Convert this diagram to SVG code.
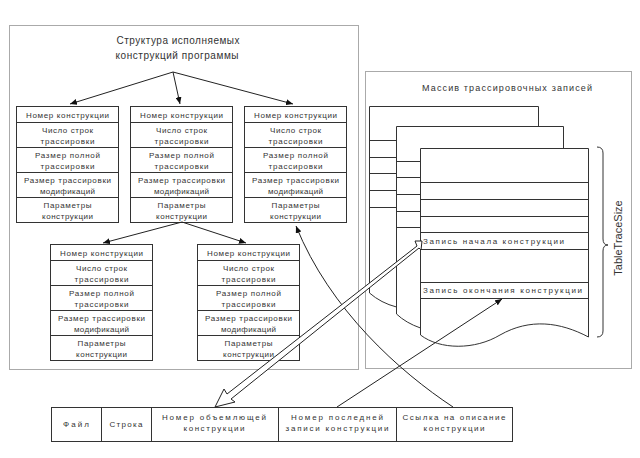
<svg xmlns="http://www.w3.org/2000/svg" width="640" height="458" viewBox="0 0 640 458">
<style>
.frame{fill:none;stroke:#555;stroke-width:1;stroke-dasharray:1 1}
.box{fill:#fff;stroke:#333;stroke-width:1}
.ln{fill:none;stroke:#333;stroke-width:1}
.t{font-family:"Liberation Sans",Arial,sans-serif;font-size:8px;fill:#333;text-anchor:middle}
.tl{font-family:"Liberation Sans",Arial,sans-serif;font-size:8px;fill:#333}
.tt{font-family:"Liberation Sans",Arial,sans-serif;font-size:10px;fill:#333;text-anchor:middle}
.c{fill:none;stroke:#222;stroke-width:1}
</style>
<defs>
<marker id="ah" markerWidth="8" markerHeight="6" refX="7" refY="3" orient="auto" markerUnits="userSpaceOnUse">
<path d="M0,0 L7,3 L0,6 z" fill="#111"/>
</marker>
<g id="rec">
<rect class="box" x="0" y="0" width="102" height="116"/>
<path class="ln" d="M0,16 H102 M0,41 H102 M0,66 H102 M0,91 H102"/>
<text class="t" x="51" y="11" textLength="83" lengthAdjust="spacing">Номер конструкции</text>
<text class="t" x="51" y="26" textLength="51" lengthAdjust="spacing">Число строк</text>
<text class="t" x="51" y="37" textLength="54" lengthAdjust="spacing">трассировки</text>
<text class="t" x="51" y="51" textLength="65" lengthAdjust="spacing">Размер полной</text>
<text class="t" x="51" y="62" textLength="54" lengthAdjust="spacing">трассировки</text>
<text class="t" x="51" y="76" textLength="87" lengthAdjust="spacing">Размер трассировки</text>
<text class="t" x="51" y="87" textLength="55" lengthAdjust="spacing">модификаций</text>
<text class="t" x="51" y="101" textLength="48" lengthAdjust="spacing">Параметры</text>
<text class="t" x="51" y="112" textLength="51" lengthAdjust="spacing">конструкции</text>
</g>
</defs>
<rect width="640" height="458" fill="#fff"/>

<g id="structure-frame">
<rect class="frame" x="9.5" y="25.5" width="349" height="344"/>
<text class="tt" x="178" y="44" textLength="123" lengthAdjust="spacing">Структура исполняемых</text>
<text class="tt" x="177" y="59" textLength="123" lengthAdjust="spacing">конструкций программы</text>
</g>

<g id="node1"><use href="#rec" x="16.5" y="106.5"/></g>
<g id="node2"><use href="#rec" x="130.5" y="106.5"/></g>
<g id="node3"><use href="#rec" x="244.5" y="106.5"/></g>
<g id="node4"><use href="#rec" x="50.5" y="244.5"/></g>
<g id="node5"><use href="#rec" x="197.5" y="244.5"/></g>

<g id="trace-array">
<rect class="frame" x="365.5" y="71.5" width="266" height="297"/>
<text class="tt" x="507" y="91" textLength="170" lengthAdjust="spacing" style="font-size:9px">Массив трассировочных записей</text>
<path class="ln" d="M369.5,293 V106.5 H538.5 V127"/>
<path class="ln" d="M369.5,293 Q381,303 396.5,307"/>
<path class="ln" d="M369.5,140.5 H396 M369.5,157.5 H396 M369.5,173.5 H396 M369.5,190.5 H396 M369.5,207.5 H396"/>
<path class="ln" d="M396.5,314 V126.5 H563.5 V148"/>
<path class="ln" d="M396.5,314 Q406,323 420.5,328"/>
<path class="ln" d="M396.5,161.5 H420 M396.5,177.5 H420 M396.5,194.5 H420 M396.5,211.5 H420 M396.5,227.5 H420"/>
<path class="ln" d="M420.5,335 V148.5 H588.5 V337 C560,322 530,318 500,335 C475,350 440,350 420.5,335"/>
<path class="ln" d="M420.5,182.5 H588 M420.5,199.5 H588 M420.5,216.5 H588 M420.5,232.5 H588 M420.5,249.5 H588 M420.5,282.5 H588 M420.5,298.5 H588"/>
<text class="tl" x="423" y="244" textLength="141" lengthAdjust="spacing">Запись начала конструкции</text>
<text class="tl" x="423" y="293" textLength="159" lengthAdjust="spacing">Запись окончания конструкции</text>
<path class="ln" d="M597,147 Q603,147 603,153 V239 Q603,245 608,245 Q603,245 603,251 V331 Q603,337 597,337"/>
<text x="622" y="238" transform="rotate(-90 622 238)" style="font-family:'Liberation Sans',Arial,sans-serif;font-size:11px;fill:#333;text-anchor:middle">TableTraceSize</text>
</g>

<g id="record-table">
<rect class="box" x="51.5" y="407.5" width="461" height="34"/>
<path class="ln" d="M101.5,407.5 V441.5 M151.5,407.5 V441.5 M278.5,407.5 V441.5 M396.5,407.5 V441.5"/>
<text class="t" x="76" y="427" textLength="26" lengthAdjust="spacing">Файл</text>
<text class="t" x="126" y="427" textLength="33" lengthAdjust="spacing">Строка</text>
<text class="t" x="214" y="420" textLength="104" lengthAdjust="spacing">Номер объемлющей</text>
<text class="t" x="214" y="431" textLength="61" lengthAdjust="spacing">конструкции</text>
<text class="t" x="337" y="420" textLength="92" lengthAdjust="spacing">Номер последней</text>
<text class="t" x="337" y="431" textLength="103" lengthAdjust="spacing">записи конструкции</text>
<text class="t" x="454" y="420" textLength="103" lengthAdjust="spacing">Ссылка на описание</text>
<text class="t" x="454" y="431" textLength="61" lengthAdjust="spacing">конструкции</text>
</g>

<g id="connectors">
<path class="c" d="M173,72 L70,104" marker-end="url(#ah)"/>
<path class="c" d="M173,72 L180,104" marker-end="url(#ah)"/>
<path class="c" d="M173,72 L293,104" marker-end="url(#ah)"/>
<path class="c" d="M182,222 L103,243" marker-end="url(#ah)"/>
<path class="c" d="M182,222 L246,243" marker-end="url(#ah)"/>
<path class="c" d="M337,407 L502,299" marker-end="url(#ah)"/>
<path class="c" d="M453,407 C400,372 330,310 296,226" marker-end="url(#ah)"/>
<path d="M215,407 L224,389 L227,394 L417,246 L415,241 L422,241 L421,250 L419,248 L231,399 L235,402 Z" fill="#fff" stroke="#222" stroke-width="1" stroke-linejoin="miter"/>
</g>
</svg>
